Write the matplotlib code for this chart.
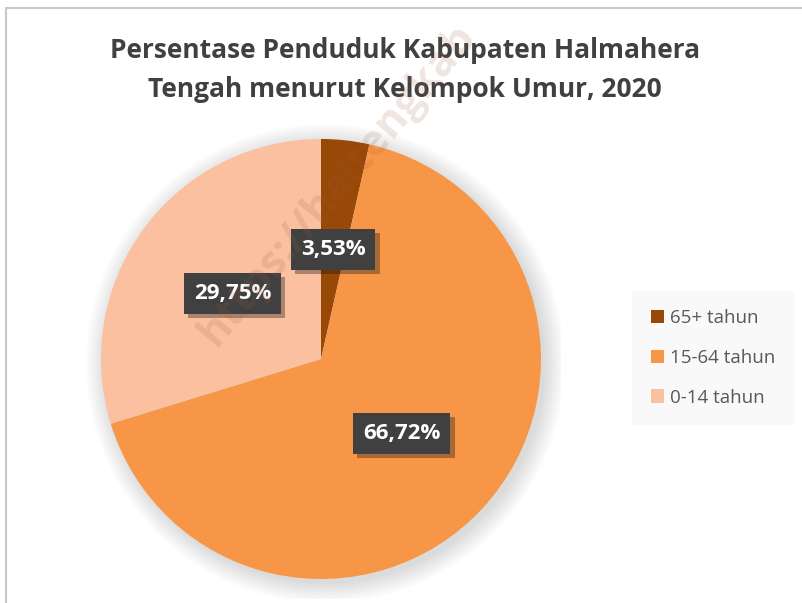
import matplotlib.pyplot as plt
import matplotlib.patches as mpatches
import matplotlib.patheffects as pe

# data
kelompok = ['65+ tahun', '15-64 tahun', '0-14 tahun']
persen = [3.53, 66.72, 29.75]
warna = ['#984807', '#F79646', '#FAC0A0']
judul = 'Persentase Penduduk Kabupaten Halmahera\nTengah menurut Kelompok Umur, 2020'

W, H = 803, 603
fig = plt.figure(figsize=(W / 100, H / 100), dpi=100)
fig.patch.set_facecolor('white')

# outer chart frame (runs off the right/bottom edge like the screenshot)
fig.patches.append(mpatches.Rectangle((6 / W, -0.1), 1.2, (H - 8) / H + 0.1,
                                      transform=fig.transFigure, fill=False,
                                      ec='#c8c8c8', lw=1.5))

cx, cy, R = 321, 359, 220
pad = 20
ax = fig.add_axes([(cx - R - pad) / W, (H - cy - R - pad) / H, (2 * R + 2 * pad) / W, (2 * R + 2 * pad) / H])

# soft shadow behind the pie
for i in range(12):
    ax.add_patch(mpatches.Circle((0.02, -0.02), 1.0 + i * 0.008, color='black',
                                 alpha=0.012, lw=0, zorder=0))


def fmt(p):
    return f'{p:.2f}'.replace('.', ',') + '%'


wedges, texts, autotexts = ax.pie(persen, colors=warna, startangle=90, counterclock=False,
                                  autopct=fmt, pctdistance=0.5, radius=1.0,
                                  wedgeprops=dict(lw=0, zorder=2),
                                  textprops=dict(color='white', fontsize=16, fontweight='bold',
                                                 family=['Open Sans', 'DejaVu Sans']))
for t in autotexts:
    t.set_zorder(5)
    t.set_bbox(dict(boxstyle='square,pad=0.45', fc='#404040', ec='none'))
    t.get_bbox_patch().set_path_effects([pe.SimplePatchShadow(offset=(3, -3), alpha=0.35),
                                         pe.Normal()])

lim = 1 + pad / R
ax.set_xlim(-lim, lim)
ax.set_ylim(-lim, lim)
ax.set_aspect('equal')
ax.axis('off')

fig.text(405 / W, 1 - 70 / H, judul, ha='center', va='center', fontsize=19, fontweight='bold',
         color='#404040', linespacing=1.55, family=['Open Sans', 'DejaVu Sans'])

# legend
leg = fig.legend(wedges, kelompok, loc='center', bbox_to_anchor=(713 / W, 1 - 358 / H),
                 frameon=True, handlelength=0.7, handleheight=0.7,
                 labelspacing=1.15, handletextpad=0.35, borderpad=1.0, fancybox=False,
                 prop=dict(family=['Open Sans', 'DejaVu Sans'], size=13.5))
leg.get_frame().set_facecolor('#f8f8f8')
leg.get_frame().set_edgecolor('none')
for t in leg.get_texts():
    t.set_color('#595959')

# watermark (kept fully inside the canvas)
fig.text(338 / W, 1 - 185 / H, 'https://haltengkab', rotation=50, ha='center',
         va='center', fontsize=31, fontweight='bold', color='#a06040', alpha=0.16,
         family=['Open Sans', 'DejaVu Sans'], zorder=10)

fig.savefig('out.png', dpi=100, facecolor='white')
